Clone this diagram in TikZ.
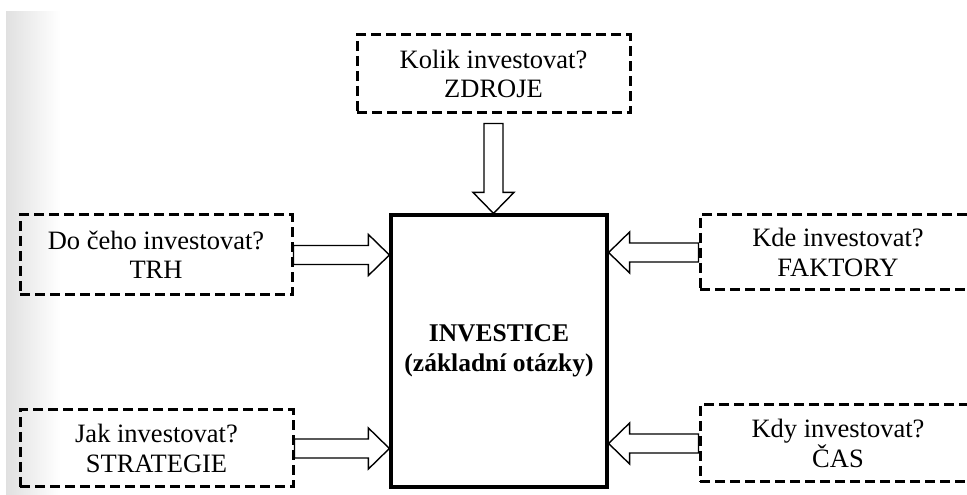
\documentclass[tikz,border=0pt]{standalone}
\usepackage{fontspec}
\setmainfont{Liberation Serif}
\usetikzlibrary{calc}

\tikzset{
  question/.style={draw, line width=3pt, dash pattern=on 10pt off 5pt,
    align=center, inner sep=0pt, font=\fontsize{26.5}{29.5}\selectfont},
  centrebox/.style={draw, line width=3.2pt, align=center, inner sep=0pt,
    font=\fontsize{25.5}{30}\selectfont\bfseries},
  % hollow block arrow drawn along the line from start to target
  blockarrow/.style={draw, line width=1.4pt, fill=white, line join=miter,
    to path={
      let \p1=($(\tikztotarget)-(\tikztostart)$),
          \n1={veclen(\x1,\y1)},
          \n2={atan2(\y1,\x1)} in
      {[shift={(\tikztostart)}, rotate=\n2]
        -- (0,9.5) -- (\n1-21,9.5) -- (\n1-21,20.5) -- (\n1,0)
        -- (\n1-21,-20.5) -- (\n1-21,-9.5) -- (0,-9.5) -- cycle}
    }}
}

\begin{document}
\begin{tikzpicture}[x=1pt, y=1pt]
  \useasboundingbox (0,0) rectangle (967,495);
  \clip (0,0) rectangle (967,495);

  % faint grey edge of the scanned page
  \shade[left color=black!12, right color=white] (6,0) rectangle (60,483);

  % centre box
  \node[centrebox, minimum width=216pt, minimum height=272pt] (inv) at (499,144)
    {INVESTICE\\(základní otázky)};

  % surrounding questions
  \node[question, minimum width=273pt, minimum height=78pt] (zdroje) at (493.5,421)
    {Kolik investovat?\\ZDROJE};
  \node[question, minimum width=272pt, minimum height=80pt] (trh) at (156,240)
    {Do čeho investovat?\\TRH};
  \node[question, minimum width=273pt, minimum height=77pt] (strat) at (156.5,46.5)
    {Jak investovat?\\STRATEGIE};
  \node[question, minimum width=276pt, minimum height=75pt] (fakt) at (838,242.5)
    {Kde investovat?\\FAKTORY};
  \node[question, minimum width=276pt, minimum height=77pt] (cas) at (838,51.5)
    {Kdy investovat?\\ČAS};

  % hollow arrows pointing into the centre box
  \draw[blockarrow] ($(zdroje.south)+(0,-9)$) to (zdroje.south |- inv.north);
  \draw[blockarrow] (trh.east) to (trh.east -| inv.west);
  \draw[blockarrow] (strat.east) to (strat.east -| inv.west);
  \draw[blockarrow] (fakt.west) to (fakt.west -| inv.east);
  \draw[blockarrow] (cas.west) to (cas.west -| inv.east);
\end{tikzpicture}
\end{document}
